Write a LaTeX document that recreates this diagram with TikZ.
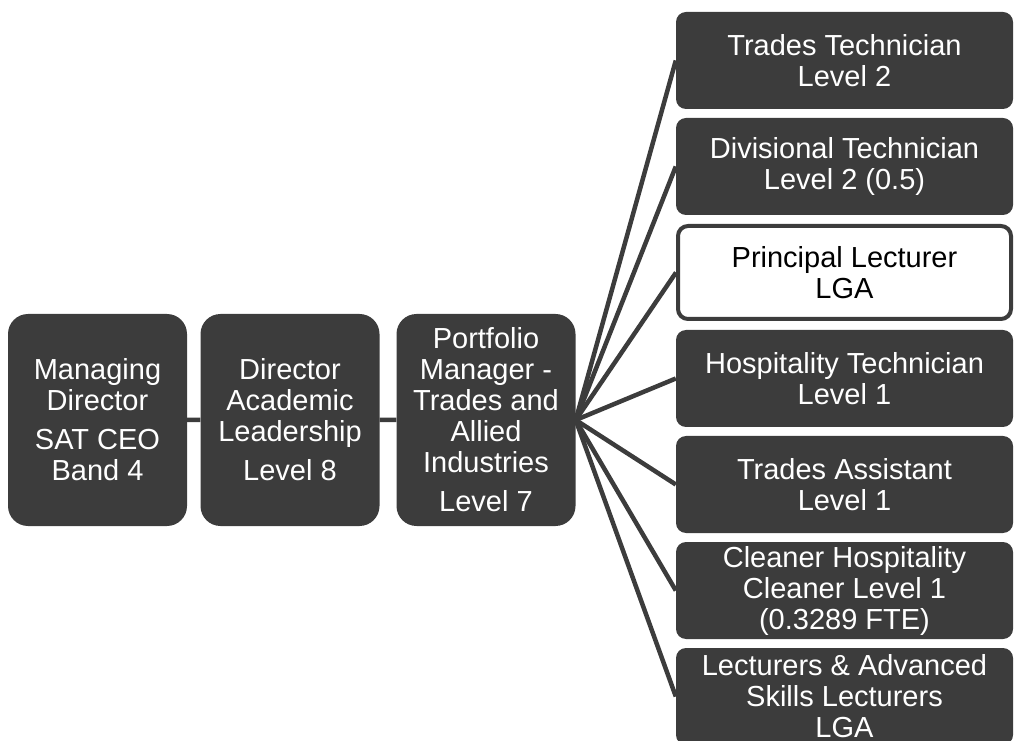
\documentclass[tikz,border=0pt]{standalone}
\usepackage{fontspec}
\setmainfont{Liberation Sans}
\usepackage{xcolor}
\usepackage{tikz}
\usetikzlibrary{trees, positioning}
\definecolor{darkbox}{HTML}{3C3C3C}

\begin{document}
\begin{tikzpicture}[x=1pt, y=1pt,
		edge from parent/.style={draw, line width=4.5pt, darkbox}, % thick grey connectors
		grow'=right, % chain runs from left to right, first child on top
		parent anchor=east, child anchor=west, % lines leave and enter at the box sides
		level 1/.style={level distance=192.5pt},
		level 2/.style={level distance=196pt},
		level 3/.style={level distance=358.5pt, sibling distance=106pt,
			every child node/.style={yshift=41.5pt}}, % staff column sits a bit higher
		every node/.style={draw=none, fill=darkbox, text=white, align=center, font=\fontsize{29}{31}\selectfont}, % dark boxes, white text
		headbox/.style={minimum width=179pt, minimum height=212pt, rounded corners=20pt},
		staffbox/.style={minimum width=337pt, minimum height=97pt, rounded corners=10pt},
		openbox/.style={staffbox, fill=white, text=black, draw=darkbox, line width=4pt, minimum width=333pt, minimum height=93pt} % the one outlined box
		]
		\useasboundingbox (0,0) rectangle (1018,740);
		% Root node (Managing Director)
		\node[headbox] (md) at (97.5,320) {Managing\\Director\\[8pt]SAT CEO\\Band 4}
		% Second level
		child { node[headbox] (dal) {Director\\Academic\\Leadership\\[8pt]Level 8}
			% Third level (Portfolio Manager)
			child { node[headbox] (pm) {Portfolio\\Manager -\\Trades and\\Allied\\Industries\\[8pt]Level 7}
				% Staff column
				child { node[staffbox] (tt) {Trades Technician\\Level 2} }
				child { node[staffbox] (dt) {Divisional Technician\\Level 2 (0.5)} }
				child { node[openbox] (pl) {Principal Lecturer\\LGA} }
				child { node[staffbox] (ht) {Hospitality Technician\\Level 1} }
				child { node[staffbox] (ta) {Trades Assistant\\Level 1} }
				child { node[staffbox] (ch) {Cleaner Hospitality\\Cleaner Level 1\\(0.3289 FTE)} }
				child { node[staffbox] (la) {Lecturers \& Advanced\\Skills Lecturers\\LGA} }
			}
		};
	\end{tikzpicture}
\end{document}
